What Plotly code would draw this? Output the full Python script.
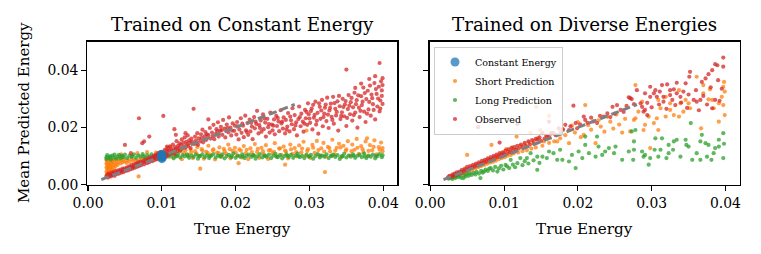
import plotly.graph_objects as go

# All values below are in thousandths of the energy unit: (true energy, mean predicted energy)
left_observed = [
    (2.5,2.8),(2.6,3.4),(2.7,2.5),(2.8,3.9),(2.9,3.0),(3.0,3.6),(3.1,2.9),(3.2,4.2),(3.3,3.3),(3.4,3.8),
    (3.5,4.5),(3.6,3.1),(3.7,4.0),(3.8,4.8),(3.9,3.7),(4.0,4.3),(4.1,5.0),(4.2,3.9),(4.3,4.6),(4.4,5.3),
    (4.5,4.2),(4.6,4.9),(4.7,5.6),(4.8,4.4),(4.9,5.1),(5.0,13.9),(5.0,5.7),(5.1,4.8),(5.2,5.4),(5.3,6.1),
    (5.4,5.0),(5.5,5.9),(5.6,6.4),(5.7,5.3),(5.8,11.0),(5.8,6.0),(5.9,6.8),(6.0,5.6),(6.1,6.3),(6.2,7.0),
    (6.3,5.9),(6.4,6.6),(6.5,7.4),(6.6,6.2),(6.7,7.1),(6.8,7.8),(6.9,23.2),(6.9,6.5),(7.0,7.3),(7.1,8.0),
    (7.2,6.8),(7.35,14.5),(7.4,7.7),(7.5,8.4),(7.6,15.1),(7.6,7.1),(7.8,8.1),(7.9,8.8),(8.0,7.5),(8.1,8.5),
    (8.2,9.2),(8.3,16.8),(8.3,7.9),(8.5,8.9),(8.6,9.6),(8.7,8.2),(8.8,9.3),(8.9,10.1),(9.0,8.6),(9.1,9.7),
    (9.2,10.5),(9.3,9.0),(9.4,10.1),(9.5,11.0),(9.6,9.4),(9.7,10.5),(9.8,11.4),(9.9,9.8),(10.2,24.0),
    (10.7,13.3),(11.7,19.4),(11.9,17.4),(13.2,18.0),
    (10.0,10.4),(10.1,9.2),(10.2,11.1),(10.3,10.0),(10.4,12.2),(10.5,10.7),(10.6,9.8),(10.7,11.6),(10.8,12.8),
    (10.9,10.4),(11.0,11.9),(11.1,13.4),(11.2,10.9),(11.3,12.3),(11.4,11.3),(11.5,14.0),(11.6,12.0),(11.7,10.8),
    (11.8,13.1),(11.9,12.5),(12.0,15.2),(12.1,11.7),(12.2,13.6),(12.3,12.8),(12.4,14.4),(12.5,11.9),(12.6,13.9),
    (12.7,15.8),(12.8,12.6),(12.9,14.6),(13.0,13.2),(13.1,16.5),(13.2,12.9),(13.3,15.0),(13.4,14.1),(13.5,17.2),
    (13.6,13.5),(13.7,15.5),(13.8,14.6),(13.9,12.8),(14.0,16.1),(14.1,15.0),(14.3,26.5),(14.4,14.2),(14.5,16.8),
    (14.6,15.4),(14.8,18.0),(14.9,13.9),(15.0,16.2),(15.2,15.1),(15.3,17.6),(15.5,19.2),(15.6,14.8),(15.8,16.9),
    (15.9,18.4),(16.0,15.6),(16.3,22.8),(16.3,17.3),(16.5,19.8),(16.6,16.1),(16.8,18.2),(17.0,20.9),(17.1,15.9),
    (17.3,17.7),(17.4,19.4),(17.6,21.8),(17.7,16.8),(17.9,18.9),(18.0,20.2),(18.2,17.4),(18.3,22.6),(18.5,19.6),
    (18.6,16.5),(18.8,21.0),(19.0,18.3),(19.1,23.5),(19.3,19.9),(19.4,17.2),(19.6,21.4),(19.8,18.8),(19.9,20.6),
    (20.1,17.5),(20.2,21.9),(20.4,15.8),(20.5,19.3),(20.7,23.2),(20.8,18.1),(21.0,20.6),(21.1,16.6),(21.3,24.1),
    (21.4,19.0),(21.6,21.5),(21.7,17.4),(21.9,22.7),(22.0,18.6),(22.2,20.3),(22.3,15.9),(22.5,23.6),(22.6,19.7),
    (22.8,21.2),(22.9,25.8),(23.1,17.9),(23.2,20.8),(23.4,22.4),(23.5,18.5),(23.7,24.6),(23.8,19.4),(24.0,21.7),
    (24.1,16.8),(24.3,23.0),(24.4,20.1),(24.6,18.2),(24.7,25.2),(24.9,21.0),(25.0,19.0),(25.2,22.8),(25.3,17.6),
    (25.5,24.0),(25.6,20.5),(25.8,22.1),(25.9,18.7),(26.1,26.0),(26.2,21.4),(26.4,19.6),(26.5,23.5),(26.7,17.9),
    (26.8,22.6),(27.0,20.3),(27.1,25.0),(27.3,18.6),(27.4,23.8),(27.6,21.1),(27.7,26.7),(27.9,19.4),(28.0,24.3),
    (28.2,21.8),(28.3,17.2),(28.5,22.9),(28.6,27.3),(28.8,20.4),(28.9,24.8),(29.1,22.0),(29.2,18.5),(29.4,26.1),
    (29.5,23.2),(29.7,20.9),(29.8,28.4),(29.9,24.6),
    (30.1,21.6),(30.2,25.7),(30.4,19.3),(30.5,27.9),(30.6,23.4),(30.8,29.0),(30.9,21.0),(31.1,25.1),(31.2,17.8),
    (31.4,27.2),(31.5,23.0),(31.7,29.6),(31.8,20.4),(32.0,24.8),(32.1,26.9),(32.3,22.2),(32.4,30.4),(32.6,19.8),
    (32.7,25.9),(32.9,28.3),(33.0,23.7),(33.2,30.7),(33.3,21.3),(33.5,26.5),(33.6,24.2),(33.8,29.1),(33.9,18.9),
    (34.1,27.4),(34.2,22.9),(34.4,25.3),(34.5,30.0),(34.7,23.9),(34.8,28.0),(35.0,40.2),(35.0,20.5),(35.2,26.4),
    (35.3,31.3),(35.5,24.6),(35.6,28.8),(35.8,22.4),(35.9,27.0),(36.1,32.1),(36.2,25.2),(36.4,29.5),(36.5,19.9),
    (36.7,26.9),(36.8,23.6),(37.0,30.9),(37.1,27.8),(37.3,33.9),(37.4,25.5),(37.6,21.9),(37.7,29.9),(37.9,32.8),
    (38.0,26.3),(38.2,34.6),(38.3,24.1),(38.5,30.2),(38.6,28.1),(38.8,35.5),(38.9,22.8),(39.1,31.7),(39.2,27.3),
    (39.4,34.2),(39.5,42.5),(39.5,25.6),(39.6,29.4),(39.7,36.1),(39.8,31.0),(39.9,37.2),(39.9,28.2),
    # extra density in the upper cloud
    (14.7,14.6),(15.4,16.3),(16.1,17.6),(16.9,17.0),(17.5,18.6),(18.1,19.0),(18.9,19.8),(19.5,18.9),
    (20.3,20.4),(20.9,21.3),(21.5,18.4),(22.1,21.6),(22.7,22.0),(23.3,19.8),(23.9,23.1),(24.5,21.2),
    (25.1,20.6),(25.7,23.3),(26.3,22.0),(26.9,19.2),(27.5,22.5),(28.1,20.7),(28.7,23.6),(29.3,21.3),
    (29.6,25.4),(30.0,23.1),(30.3,26.6),(30.7,24.4),(31.0,22.3),(31.3,28.4),(31.6,25.9),(31.9,23.6),
    (32.2,28.0),(32.5,24.5),(32.8,26.8),(33.1,22.6),(33.4,28.5),(33.7,25.4),(34.0,31.0),(34.3,24.0),
    (34.6,27.1),(34.9,29.2),(35.1,23.3),(35.4,27.6),(35.7,30.3),(36.0,24.3),(36.3,28.1),(36.6,31.2),
    (36.9,25.8),(37.2,29.0),(37.5,32.0),(37.8,24.8),(38.1,28.9),(38.4,31.5),(38.7,26.1),(39.0,33.4),
    (39.3,30.1),(39.6,26.6),(39.8,32.9),(39.9,34.8),(37.0,35.3),(38.1,36.9),(38.9,37.9),(36.2,33.8),
]

left_short = [
    (2.5,3.2),(2.5,4.5),(2.5,6.0),(2.5,7.4),(2.5,8.6),(2.6,3.8),(2.6,5.2),(2.6,6.7),(2.6,8.0),(2.7,4.2),
    (2.7,5.8),(2.7,7.2),(2.8,4.8),(2.8,6.3),(2.8,8.4),(2.9,5.4),(2.9,7.0),(3.0,4.6),(3.0,6.1),(3.0,7.8),
    (3.1,5.6),(3.1,8.7),(3.2,6.6),(3.2,7.5),(3.3,5.1),(3.3,8.2),(3.4,6.9),(3.5,5.8),(3.5,7.9),(3.6,8.8),
    (3.7,6.4),(3.8,7.3),(3.9,8.5),(4.0,6.9),(4.1,7.9),(4.2,8.9),(4.4,7.4),(4.5,8.4),(4.7,7.8),(4.8,8.9),
    (5.0,8.2),(5.2,7.6),(5.4,8.7),(5.6,8.0),(5.9,8.9),(6.1,8.3),(6.4,8.8),(6.6,7.9),(6.85,2.9),(6.9,8.6),
    (7.2,9.0),(7.5,8.5),(7.8,9.1),(8.1,8.7),(8.4,9.3),(8.7,8.9),(9.0,9.4),(9.3,8.8),(9.6,9.2),
    (6.7,11.0),(8.0,11.4),(9.2,11.2),(4.5,10.6),
    (10.0,11.4),(10.3,9.0),(10.6,12.1),(10.9,10.6),(11.2,13.0),(11.5,9.6),(11.8,11.8),(12.1,10.2),(12.4,12.6),
    (12.7,8.9),(13.0,11.1),(13.3,13.4),(13.6,10.4),(13.9,12.2),(14.2,9.3),(14.5,11.7),(14.8,13.1),(15.1,10.0),
    (15.2,5.6),(15.4,12.4),(15.7,9.1),(16.0,11.5),(16.3,13.6),(16.6,10.5),(16.9,12.0),(17.2,8.8),(17.5,11.2),
    (17.8,13.0),(18.1,9.8),(18.4,12.5),(18.7,10.9),(19.0,14.0),(19.3,9.2),(19.6,11.8),(19.9,12.9),(20.2,10.1),
    (20.4,7.5),(20.5,12.3),(20.8,9.5),(21.1,13.5),(21.4,11.0),(21.7,8.9),(22.0,12.7),(22.3,10.3),(22.6,14.2),
    (22.9,11.4),(23.2,9.4),(23.5,12.9),(23.8,10.7),(24.1,13.8),(24.4,9.0),(24.7,12.1),(25.0,11.0),(25.3,14.5),
    (25.6,9.7),(25.9,12.6),(26.2,10.4),(26.5,13.3),(26.7,7.0),(26.8,11.6),(27.1,9.2),(27.4,14.0),(27.7,10.8),
    (28.0,12.8),(28.3,9.9),(28.6,13.7),(28.9,11.3),(29.2,15.0),(29.5,10.1),(29.6,18.9),(29.8,12.4),(30.1,9.4),
    (30.4,13.9),(30.7,11.1),(31.0,15.3),(31.3,10.3),(31.6,12.7),(31.9,14.6),(32.1,4.4),(32.2,9.8),(32.5,13.2),
    (32.8,11.6),(33.1,15.7),(33.4,10.5),(33.7,12.9),(34.0,14.3),(34.3,9.6),(34.6,13.6),(34.9,11.8),(35.2,15.2),
    (35.5,10.2),(35.8,14.0),(36.1,12.2),(36.4,16.0),(36.7,10.8),(37.0,13.5),(37.3,11.4),(37.6,15.1),(37.8,16.2),
    (37.9,9.9),(38.2,13.8),(38.5,12.0),(38.8,15.5),(39.1,10.6),(39.4,13.1),(39.7,14.7),(39.9,11.7),(39.9,12.8),
    (10.2,10.8),(11.0,11.5),(11.7,10.9),(12.5,11.7),(13.2,12.0),(14.0,11.3),(14.7,10.9),(15.5,11.9),(16.2,11.1),
    (17.0,12.3),(17.7,11.0),(18.5,11.7),(19.2,12.4),(20.0,11.3),(20.7,11.9),(21.5,12.2),(22.2,11.4),(23.0,12.5),
    (23.7,11.7),(24.5,12.0),(25.2,11.5),(26.0,12.7),(26.7,11.9),(27.5,12.3),(28.2,11.4),(29.0,12.6),(29.7,11.8),
    (30.5,12.9),(31.2,12.1),(32.0,11.6),(32.7,12.8),(33.5,11.9),(34.2,13.0),(35.0,12.3),(35.7,11.7),(36.5,12.9),
    (37.2,12.4),(38.0,11.8),(38.7,13.2),(39.5,12.2),
]

left_long = [
    (2.5,9.6),(2.5,9.0),(2.6,10.3),(2.8,9.3),(3.0,9.9),(3.1,8.8),(3.3,10.2),(3.5,9.5),(3.6,10.5),(3.8,9.1),
    (4.0,9.8),(4.2,10.4),(4.4,9.2),(4.6,10.0),(4.8,9.6),(5.0,10.5),(5.3,9.3),(5.6,10.1),(5.9,9.7),(6.2,10.6),
    (6.5,9.4),(6.8,10.2),(7.1,9.8),(7.4,10.7),(7.7,9.5),(8.0,10.3),(8.3,9.7),(8.6,10.6),(8.9,9.3),(9.2,10.1),
    (9.5,10.5),(9.8,9.6),(10.1,10.2),(10.4,9.4),(10.7,10.6),(11.0,9.8),(11.3,10.4),(11.6,9.2),(11.9,10.1),
    (12.2,10.7),(12.5,9.5),(12.8,10.3),(13.1,9.9),(13.4,10.6),(13.7,9.4),(14.0,10.2),(14.3,9.7),(14.6,10.5),
    (14.9,9.1),(15.2,10.0),(15.5,10.6),(15.8,9.6),(16.1,10.3),(16.4,9.3),(16.7,10.1),(17.0,10.7),(17.3,9.5),
    (17.6,10.2),(17.9,9.8),(18.2,10.6),(18.5,9.2),(18.8,10.0),(19.1,10.4),(19.4,9.6),(19.7,10.9),(20.0,9.4),
    (20.3,10.2),(20.6,9.8),(20.9,10.6),(21.2,9.3),(21.5,10.1),(21.8,10.5),(22.1,9.7),(22.4,10.3),(22.7,9.1),
    (23.0,10.0),(23.3,10.7),(23.6,9.5),(23.9,10.2),(24.2,9.8),(24.5,10.5),(24.8,9.3),(25.1,10.1),(25.4,10.8),
    (25.7,9.6),(26.0,10.3),(26.3,9.2),(26.6,10.0),(26.9,10.6),(27.2,9.7),(27.5,10.4),(27.8,9.4),(28.1,10.2),
    (28.4,10.9),(28.7,9.6),(29.0,10.1),(29.3,9.3),(29.6,10.5),(29.9,9.8),(30.2,10.4),(30.5,9.1),(30.8,10.0),
    (31.1,10.7),(31.4,9.5),(31.7,10.2),(32.0,9.8),(32.3,10.6),(32.6,9.3),(32.9,10.1),(33.2,10.5),(33.5,9.7),
    (33.8,10.3),(34.1,9.0),(34.4,10.0),(34.7,10.8),(35.0,9.5),(35.3,10.2),(35.6,9.8),(35.9,10.6),(36.2,9.4),
    (36.5,10.1),(36.8,10.4),(37.1,9.6),(37.4,10.9),(37.7,9.3),(38.0,10.2),(38.3,9.8),(38.6,10.5),(38.9,9.2),
    (39.2,10.0),(39.5,10.7),(39.8,9.6),(39.9,10.3),
    (3.0,9.6),(4.5,9.9),(6.0,10.0),(7.5,10.0),(9.0,9.9),(10.5,10.0),(12.0,9.9),(13.5,10.0),(15.0,10.1),
    (16.5,9.9),(18.0,10.1),(19.5,10.0),(21.0,9.9),(22.5,10.1),(24.0,10.0),(25.5,9.9),(27.0,10.1),(28.5,10.0),
    (30.0,9.9),(31.5,10.1),(33.0,10.0),(34.5,9.9),(36.0,10.1),(37.5,10.0),(39.0,10.0),
]

left_constant = [(10.0,9.1),(10.0,9.5),(10.0,9.9),(10.0,10.3),(10.0,10.6)]

right_observed = [
    (2.4,2.6),(2.6,3.1),(2.8,2.7),(3.0,3.5),(3.1,3.0),(3.3,3.9),(3.5,3.4),(3.6,4.3),(3.8,3.8),(4.0,4.6),
    (4.2,4.1),(4.3,5.2),(4.5,4.7),(4.7,5.6),(4.9,5.0),(5.0,6.2),(5.2,5.4),(5.4,6.5),(5.6,5.9),(5.8,6.9),
    (6.0,6.3),(6.2,7.4),(6.4,6.7),(6.5,20.1),(6.6,7.8),(6.8,7.1),(7.0,8.3),(7.2,7.6),(7.4,8.7),(7.6,8.0),
    (7.8,9.2),(8.0,8.5),(8.2,9.6),(8.4,8.8),(8.6,10.1),(8.8,9.3),(9.0,10.5),(9.2,9.7),(9.4,14.7),(9.4,11.0),
    (9.6,10.2),(9.8,11.3),(10.0,10.6),(10.2,11.9),(10.4,10.9),(10.6,12.3),(10.8,11.4),(11.0,12.8),(11.2,11.8),
    (11.4,13.1),(11.6,12.2),(11.8,21.1),(11.8,13.6),(12.0,12.6),(12.3,14.0),(12.5,13.1),(12.8,14.6),(13.0,13.5),
    (13.3,15.1),(13.5,14.0),(13.8,15.6),(14.0,14.4),(14.3,16.0),(14.5,15.7),(14.8,16.5),(15.0,15.3),(15.2,18.0),
    (15.5,16.1),(15.8,17.2),(16.1,22.0),(16.1,16.6),(16.4,17.9),(16.7,18.0),(17.0,17.3),(17.4,19.7),(17.7,18.4),
    (18.0,19.2),(18.3,20.9),(18.8,19.1),(19.0,20.4),(19.4,27.6),(19.7,21.5),(19.9,19.7),(20.3,21.1),(20.8,23.8),
    (21.0,22.6),(21.3,21.6),(21.8,23.4),(22.1,22.1),(22.6,21.5),(23.0,24.0),(23.5,23.8),(24.0,24.9),(24.4,23.6),
    (24.7,27.2),(25.0,24.8),(25.3,27.8),(25.8,26.1),(26.2,25.4),(26.6,27.5),(26.9,30.5),(27.1,30.2),(27.3,29.9),
    (27.6,28.1),(28.0,33.0),
    (28.5,28.4),(28.7,27.2),(28.9,25.5),(29.1,26.1),(29.4,28.6),(29.4,24.3),(29.8,30.7),(29.8,34.2),(29.1,31.9),
    (30.3,31.9),(30.5,33.0),(30.7,30.7),(31.1,32.5),(31.4,34.8),(31.6,30.7),(31.6,29.0),(32.1,35.0),(32.5,33.0),
    (32.5,31.3),(32.8,29.6),(33.0,33.3),(33.4,35.6),(33.4,31.9),(33.9,30.7),(34.3,32.5),(34.6,35.4),(35.1,37.7),
    (35.2,39.4),(35.7,29.6),(36.1,29.0),(36.6,29.6),(36.8,35.9),(37.3,37.1),(37.7,38.6),(38.2,40.0),(38.2,26.7),
    (38.6,42.1),(38.6,29.6),(38.9,41.7),(39.2,29.3),(39.7,41.2),(39.7,44.4),
    (30.0,27.0),(31.0,28.0),(32.0,26.5),(33.2,27.8),(34.0,28.7),(35.0,31.5),(36.0,33.0),(37.0,31.0),(38.0,34.0),
    (39.0,36.5),(39.5,33.5),(36.4,26.0),(34.8,26.8),(37.5,28.0),
]

right_short = [
    (2.5,2.3),(2.7,3.0),(2.9,2.6),(3.1,3.3),(3.3,2.9),(3.5,3.8),(3.7,3.3),(3.9,4.2),(4.1,3.6),(4.3,4.5),
    (4.5,4.0),(4.7,5.1),(4.9,4.4),(5.0,10.4),(5.1,5.4),(5.3,4.8),(5.5,6.0),(5.7,5.2),(5.9,6.4),(6.1,5.7),
    (6.3,6.9),(6.5,6.1),(6.7,7.4),(6.9,6.5),(7.1,7.8),(7.3,6.9),(7.5,8.3),(7.7,7.3),(7.9,8.8),(8.1,7.7),
    (8.3,13.9),(8.3,9.1),(8.5,8.0),(8.7,9.6),(8.9,8.4),(9.1,10.0),(9.3,8.9),(9.5,10.6),(9.7,9.3),(9.9,11.0),
    (10.1,9.6),(10.3,12.4),(10.5,10.1),(10.7,11.6),(10.9,10.4),(11.1,13.0),(11.3,10.9),(11.7,16.8),(11.6,12.2),
    (11.9,11.2),(12.2,13.6),(12.5,11.7),(12.8,14.1),(13.1,12.0),(13.4,14.8),(13.6,18.0),(13.7,12.6),(14.0,15.2),
    (14.35,27.2),(14.3,13.0),(14.6,16.3),(14.9,19.1),(15.2,13.6),(15.4,15.1),(15.7,17.0),(16.1,24.0),(16.1,14.6),
    (16.4,18.1),(16.8,15.1),(17.2,15.1),(17.6,16.2),(17.9,19.5),(18.3,17.3),(18.8,14.5),(19.2,20.6),(19.6,18.2),
    (20.0,21.9),(20.4,16.6),(20.8,17.4),(21.0,27.8),(21.4,20.8),(21.8,19.2),(22.4,14.5),(22.8,22.5),(23.1,20.3),
    (23.6,18.5),(24.0,23.7),(24.4,22.0),(24.8,19.6),(25.2,24.5),(25.6,21.0),(26.0,18.2),(26.4,23.0),(27.1,18.6),
    (27.6,22.6),(27.8,23.2),(27.8,34.8),
    (28.2,25.5),(28.7,29.0),(28.9,19.1),(29.1,20.9),(29.6,23.8),(29.8,12.8),(30.3,21.5),(30.7,23.2),(30.9,19.1),
    (30.9,29.6),(31.2,26.7),(31.9,23.8),(31.9,30.7),(32.5,26.1),(32.5,28.4),(33.0,24.3),(33.7,23.8),(33.7,33.0),
    (33.9,28.4),(34.3,25.5),(34.6,29.6),(35.0,28.4),(35.2,26.7),(36.1,37.7),(36.7,19.7),(37.0,31.9),(37.0,34.8),
    (37.7,29.8),(37.9,33.3),(38.2,29.6),(38.4,26.7),(39.1,28.4),(39.1,22.0),(39.5,30.7),(39.7,34.2),(39.7,27.8),
    (39.8,35.9),(39.9,32.5),(39.9,24.3),
]

right_long = [
    (2.5,2.1),(2.8,2.4),(3.0,2.0),(3.2,2.7),(3.4,2.3),(3.6,3.0),(3.8,2.6),(4.0,3.2),(4.2,2.4),(4.5,2.3),
    (4.6,3.4),(4.8,2.9),(5.0,3.7),(5.2,3.1),(5.4,4.0),(5.6,3.4),(5.9,4.1),(6.1,3.6),(6.3,4.5),(6.6,3.9),
    (6.8,2.3),(6.9,4.8),(7.1,4.2),(7.3,4.6),(7.5,5.3),(7.8,4.8),(8.0,5.6),(8.2,5.8),(8.5,5.0),(8.8,6.2),
    (9.1,4.6),(9.3,5.7),(9.6,6.6),(9.9,5.3),(10.2,6.9),(10.4,6.4),(10.7,5.8),(10.9,8.7),(11.2,7.0),(11.5,6.1),
    (11.8,7.5),(12.2,9.3),(12.5,6.8),(12.8,8.2),(13.1,9.3),(13.3,7.4),(13.6,11.0),(14.0,8.5),(14.5,9.8),
    (14.5,5.2),(14.8,7.6),
    (15.2,9.8),(15.8,9.3),(16.1,11.6),(16.7,11.0),(17.2,8.7),(17.6,12.2),(17.9,8.7),(18.8,8.1),(19.2,10.4),
    (19.7,5.8),(20.1,11.6),(20.6,9.3),(21.0,13.9),(21.0,16.8),(21.5,11.0),(22.4,9.8),(22.6,16.8),(22.8,13.3),
    (23.3,10.4),(23.7,11.6),(24.2,12.8),(24.9,11.0),(25.1,13.3),(26.0,8.7),(26.9,11.6),(27.3,18.6),(27.5,8.7),
    (27.6,12.2),(27.6,15.1),(27.8,19.1),
    (28.7,11.6),(28.9,9.8),(29.1,10.4),(29.6,7.0),(29.8,9.3),(30.4,12.2),(30.5,16.2),(30.9,9.8),(31.2,12.2),
    (31.4,16.2),(32.0,9.3),(32.3,11.0),(32.3,13.9),(32.9,12.2),(33.0,15.1),(33.4,15.7),(33.9,9.8),(34.6,15.7),
    (34.7,13.9),(35.0,13.3),(35.3,21.5),(35.5,8.7),(36.1,11.0),(36.6,15.1),(36.6,8.7),(36.8,17.4),(37.3,14.5),
    (37.5,9.8),(37.7,13.9),(38.1,8.7),(38.4,11.0),(38.6,12.8),(39.1,13.3),(39.1,15.7),(39.7,18.0),(39.7,9.3),
    (39.8,14.3),
]

ideal_line = [(1.8,1.8),(28.0,28.0)]

x_ticks = [0.00, 0.01, 0.02, 0.03, 0.04]
y_ticks = [0.00, 0.02, 0.04]
titles = ["Trained on Constant Energy", "Trained on Diverse Energies"]
x_label = "True Energy"
y_label = "Mean Predicted Energy"

COLORS = {"Constant Energy": "#1f77b4", "Short Prediction": "#ff7f0e",
          "Long Prediction": "#2ca02c", "Observed": "#d62728"}
FONT = "DejaVu Serif"
W, H = 761, 254


def xs(pts):
    return [p[0] / 1000 for p in pts]


def ys(pts):
    return [p[1] / 1000 for p in pts]


fig = go.Figure()


def add_points(pts, name, axes, size=4.2, show=False, rank=1):
    fig.add_trace(go.Scatter(
        x=xs(pts), y=ys(pts), mode="markers", name=name,
        marker=dict(color=COLORS[name], size=size, opacity=0.75, line=dict(width=0)),
        xaxis=axes[0], yaxis=axes[1], showlegend=show, legendrank=rank,
    ))


def add_line(axes):
    fig.add_trace(go.Scatter(
        x=xs(ideal_line), y=ys(ideal_line), mode="lines",
        line=dict(color="#7f7f7f", width=3, dash="8px,4px"),
        xaxis=axes[0], yaxis=axes[1], showlegend=False, hoverinfo="skip",
    ))


A1 = ("x", "y")
A2 = ("x2", "y2")
add_points(left_short, "Short Prediction", A1)
add_points(left_long, "Long Prediction", A1)
add_points(left_observed, "Observed", A1)
add_line(A1)
add_points(left_constant, "Constant Energy", A1, size=9, show=True, rank=1)

add_points(right_short, "Short Prediction", A2, show=True, rank=2)
add_points(right_long, "Long Prediction", A2, show=True, rank=3)
add_points(right_observed, "Observed", A2, show=True, rank=4)
add_line(A2)

left_px = (87.3, 397.3)
right_px = (429.5, 739.5)
top_px, bot_px = 41.5, 184.7

xr = [-0.0001, 0.0419]
yr = [0.0, 0.05]
axis_common = dict(
    showline=True, linecolor="black", linewidth=1.2, mirror=True,
    ticks="outside", ticklen=5, tickwidth=1.1, tickcolor="black",
    showgrid=False, zeroline=False, automargin=False,
    tickfont=dict(family=FONT, size=13.9, color="black"),
)

fig.update_layout(
    width=W, height=H,
    margin=dict(l=0, r=0, t=0, b=0, pad=0, autoexpand=False),
    paper_bgcolor="white", plot_bgcolor="white",
    xaxis=dict(domain=[left_px[0] / W, left_px[1] / W], range=xr,
               tickvals=x_ticks, tickformat=".2f", anchor="y", **axis_common),
    xaxis2=dict(domain=[right_px[0] / W, right_px[1] / W], range=xr,
                tickvals=x_ticks, tickformat=".2f", anchor="y2", **axis_common),
    yaxis=dict(domain=[(H - bot_px) / H, (H - top_px) / H], range=yr,
               tickvals=y_ticks, tickformat=".2f", anchor="x", **axis_common),
    yaxis2=dict(domain=[(H - bot_px) / H, (H - top_px) / H], range=yr,
                tickvals=y_ticks, showticklabels=False, anchor="x2",
                matches="y", **axis_common),
    legend=dict(x=434 / W, y=(H - 46.5) / H, xanchor="left", yanchor="top",
                bgcolor="rgba(255,255,255,0.8)", bordercolor="#cccccc", borderwidth=1,
                font=dict(family=FONT, size=9.5, color="black"),
                itemwidth=30, tracegroupgap=0),
    font=dict(family=FONT, color="black"),
    showlegend=True,
)

annotations = []
for t, (a, b) in zip(titles, [left_px, right_px]):
    annotations.append(dict(text=t, x=(a + b) / 2 / W, y=(H - 24) / H, xref="paper", yref="paper",
                            xanchor="center", yanchor="middle", showarrow=False,
                            font=dict(family=FONT, size=18.3, color="black")))
    annotations.append(dict(text=x_label, x=(a + b) / 2 / W, y=(H - 228.5) / H, xref="paper",
                            yref="paper", xanchor="center", yanchor="middle", showarrow=False,
                            font=dict(family=FONT, size=15.2, color="black")))
annotations.append(dict(text=y_label, x=24 / W, y=(H - 113) / H, xref="paper", yref="paper",
                        xanchor="center", yanchor="middle", textangle=-90, showarrow=False,
                        font=dict(family=FONT, size=15.0, color="black")))
fig.update_layout(annotations=annotations)

fig.write_html("out.html", config={"displayModeBar": False, "staticPlot": True},
               post_script="document.body.style.margin='0px';document.body.style.overflow='hidden';")
